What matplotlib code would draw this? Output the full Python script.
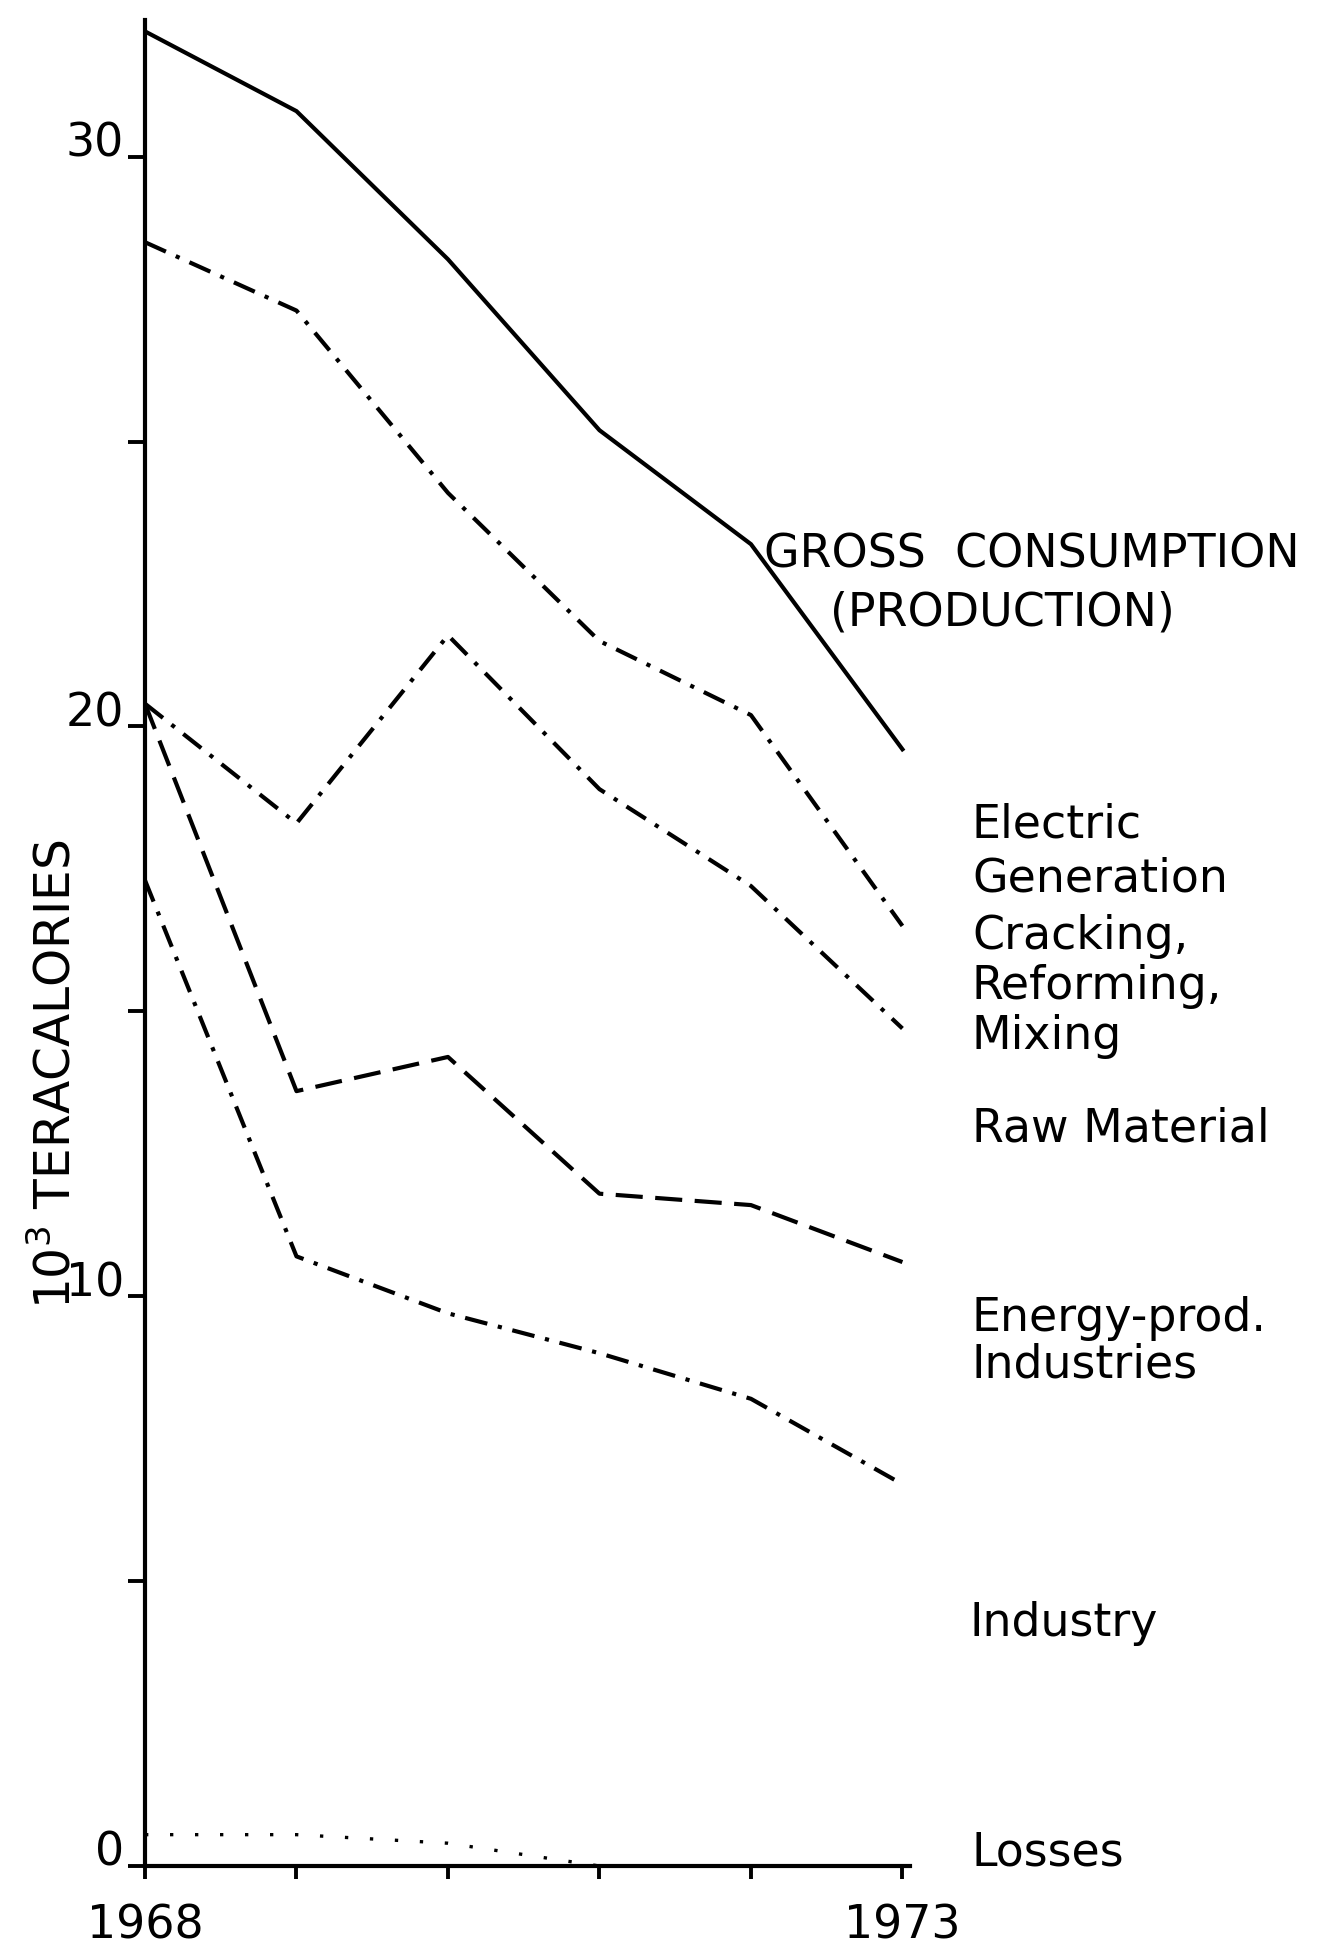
import matplotlib
matplotlib.use("Agg")
import matplotlib.pyplot as plt
from matplotlib.ticker import FixedLocator

years = [1968, 1969, 1970, 1971, 1972, 1973]
gross_consumption = [32.2, 30.8, 28.2, 25.2, 23.2, 19.6]
electric_generation = [28.5, 27.3, 24.1, 21.5, 20.2, 16.5]
cracking_reforming = [20.4, 18.3, 21.6, 18.9, 17.2, 14.7]
raw_material = [20.4, 13.6, 14.2, 11.8, 11.6, 10.6]
energy_prod_industries = [17.3, 10.7, 9.7, 9.0, 8.2, 6.7]
losses = [0.55, 0.55, 0.4, 0.0, 0.0, 0.0]

ytick_major = [0, 10, 20, 30]
ytick_minor = [5, 15, 25]
xtick_labels = {1968: "1968", 1973: "1973"}

FS = 33
W, H = 1325, 1947
fig = plt.figure(figsize=(W / 100, H / 100), dpi=100)
left, right, bottom, top = 145, 910, 1866, 20
ax = fig.add_axes([left / W, 1 - bottom / H, (right - left) / W, (bottom - top) / H])

lw = 3.0
ax.plot(years, gross_consumption, color="black", lw=lw, solid_joinstyle="miter")
dd = (0, (5.5, 2.6, 1.0, 2.6))
ax.plot(years, electric_generation, color="black", lw=lw, linestyle=dd)
ax.plot(years, cracking_reforming, color="black", lw=lw, linestyle=dd)
ax.plot(years, raw_material, color="black", lw=lw, linestyle=(0, (6.5, 3.0)))
ax.plot(years, energy_prod_industries, color="black", lw=lw, linestyle=dd)
ax.plot(years, losses, color="black", lw=2.4, linestyle=(0, (1, 6.5)))

ax.set_xlim(1968, 1973.05)
ax.set_ylim(0, 32.4)
for s in ["top", "right"]:
    ax.spines[s].set_visible(False)
for s in ["left", "bottom"]:
    ax.spines[s].set_linewidth(3.0)

ax.yaxis.set_major_locator(FixedLocator(ytick_major))
ax.yaxis.set_minor_locator(FixedLocator(ytick_minor))
ax.set_yticklabels([str(v) for v in ytick_major])
ax.tick_params(axis="y", which="both", direction="out", length=12, width=2.8, labelsize=FS, pad=3)
plt.setp(ax.get_yticklabels(), va="baseline")

ax.set_xticks(years)
ax.set_xticklabels([xtick_labels.get(y, "") for y in years])
ax.tick_params(axis="x", direction="out", length=9, width=2.8, labelsize=FS, pad=18)

fig.text(56 / W, 1 - 1074 / H, "10$^3$ TERACALORIES", rotation=90, ha="center",
         va="center", fontsize=35)

def label(x, y, s):
    fig.text(x / W, 1 - (y + 18) / H, s, ha="left", va="baseline", fontsize=FS)

label(764, 550, "GROSS  CONSUMPTION")
label(830, 608, "(PRODUCTION)")
label(972, 820, "Electric")
label(972, 873, "Generation")
label(972, 931, "Cracking,")
label(972, 981, "Reforming,")
label(972, 1031, "Mixing")
label(972, 1124, "Raw Material")
label(972, 1313, "Energy-prod.")
label(972, 1360, "Industries")
label(969, 1618, "Industry")
label(972, 1847, "Losses")

fig.savefig("out.png", dpi=100)
